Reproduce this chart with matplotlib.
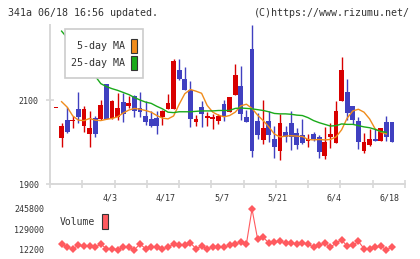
import numpy as np
import matplotlib
matplotlib.use("Agg")
import matplotlib.pyplot as plt
from matplotlib.patches import Rectangle

# daily candles: open, high, low, close (index 0 .. 60, last = 6/18)
opens = [2080, 2009, 2052, 2049, 2079, 2038, 2018, 2058, 2055, 2138,
         2056, 2060, 2095, 2086, 2110, 2082, 2062, 2055, 2058, 2060,
         2079, 2079, 2171, 2149, 2124, 2048, 2083, 2058, 2055, 2051,
         2091, 2072, 2112, 2133, 2060, 2221, 2050, 2005, 2050, 2007,
         1979, 2024, 2046, 2022, 2017, 2003, 2019, 2011, 1967, 2013,
         1998, 2098, 2118, 2086, 2050, 1979, 1994, 2007, 2003, 2048, 2048]
highs = [2080, 2046, 2084, 2062, 2120, 2086, 2075, 2062, 2100, 2138,
         2100, 2117, 2116, 2110, 2112, 2120, 2098, 2074, 2074, 2076,
         2114, 2197, 2197, 2178, 2145, 2064, 2098, 2071, 2066, 2066,
         2100, 2108, 2186, 2181, 2076, 2279, 2070, 2100, 2075, 2038,
         2067, 2038, 2074, 2033, 2055, 2020, 2025, 2017, 2036, 2046,
         2098, 2202, 2149, 2086, 2060, 2022, 2031, 2032, 2033, 2061, 2048]
lows = [2080, 1989, 2022, 2033, 2046, 2025, 1989, 2011, 2052, 2054,
        2054, 2052, 2048, 2080, 2060, 2060, 2041, 2036, 2019, 2041,
        2079, 2079, 2148, 2124, 2036, 2038, 2035, 2038, 2031, 2043,
        2051, 2072, 2112, 2052, 2048, 1965, 2007, 1995, 2001, 1961,
        1956, 2001, 1981, 1983, 1995, 1988, 2002, 1961, 1960, 1986,
        1998, 2098, 2052, 2043, 1983, 1975, 1991, 2003, 2003, 2003, 1999]
closes = [2080, 2038, 2025, 2051, 2060, 2079, 2034, 2018, 2088, 2054,
          2098, 2082, 2067, 2092, 2075, 2072, 2048, 2038, 2038, 2075,
          2094, 2194, 2149, 2124, 2054, 2055, 2066, 2061, 2059, 2062,
          2060, 2106, 2160, 2067, 2048, 1979, 2017, 2034, 2017, 1989,
          2045, 2011, 2011, 1994, 1998, 2008, 2007, 1977, 1999, 2018,
          2074, 2171, 2068, 2053, 1999, 1999, 2007, 2003, 2033, 2011, 2001]

# moving averages, index 1 .. 59
ma5 = [2096, 2083, 2062, 2052, 2051, 2056, 2052, 2051, 2054, 2056,
       2060, 2069, 2076, 2080, 2078, 2075, 2071, 2063, 2057, 2055,
       2062, 2090, 2115, 2125, 2121, 2116, 2087, 2071, 2064, 2060,
       2063, 2071, 2086, 2090, 2080, 2064, 2051, 2036, 2019, 2012,
       2014, 2015, 2014, 2013, 2006, 2005, 2006, 2005, 2006, 2012,
       2029, 2057, 2074, 2078, 2071, 2055, 2031, 2024, 2019]
ma25 = [2264, 2248, 2231, 2214, 2195, 2176, 2157, 2139, 2132, 2127,
        2123, 2118, 2113, 2106, 2100, 2095, 2092, 2085, 2079, 2071,
        2070, 2072, 2072, 2072, 2073, 2074, 2074, 2074, 2075, 2075,
        2075, 2080, 2081, 2080, 2079, 2077, 2075, 2072, 2068, 2067,
        2067, 2066, 2064, 2063, 2058, 2051, 2046, 2042, 2038, 2039,
        2043, 2042, 2042, 2039, 2036, 2034, 2030, 2025, 2023]

# volume, index 1 .. 60
volume = [44900, 26000, 17900, 37500, 31700, 31700, 26000, 44900, 17900, 17900,
          12200, 26000, 26000, 12200, 44900, 17900, 26000, 26000, 17900, 26000,
          44900, 37500, 37500, 50700, 17900, 31700, 17900, 26000, 26000, 26000,
          37500, 44900, 56400, 44900, 245800, 73600, 83400, 50700, 56400, 60400,
          50700, 50700, 44900, 50700, 44900, 26000, 37500, 50700, 26000, 50700,
          69600, 31700, 37500, 60400, 17900, 17900, 26000, 31700, 12200, 26000]

date_idx = [10, 20, 30, 40, 50, 60]
date_labels = ["4/3", "4/17", "5/7", "5/21", "6/4", "6/18"]
price_ticks = [1900, 2100]
vol_ticks = [12200, 129000, 245800]

RED = "#d80000"
BLUE = "#4040c0"
ORANGE = "#f08c1c"
GREEN = "#1aaa1a"
VOLC = "#ff5a5f"
AXC = "#d8d8d8"
TXT = "#333333"
MONO = "DejaVu Sans Mono"

W, H = 420, 259
fig = plt.figure(figsize=(W / 100, H / 100), dpi=100)
fig.patch.set_facecolor("white")

xlim = (-1.07, 62.32)
ax = fig.add_axes([50 / W, 1 - 184 / H, 355 / W, 159 / H])
ax.set_xlim(*xlim)
ax.set_ylim(1900, 2278.6)

n = len(opens)
idx = np.arange(n)
o = np.array(opens, float)
c = np.array(closes, float)
up = c >= o
cols = np.where(up, RED, BLUE)
ax.vlines(idx, lows, highs, colors=cols, lw=1.0, zorder=2)
body = np.maximum(np.abs(c - o), 2.4)
ax.bar(idx, body, bottom=np.minimum(o, c), width=0.85, color=cols, lw=0, zorder=3)

ma_idx = np.arange(1, 1 + len(ma5))
ax.plot(ma_idx, ma5, color=ORANGE, lw=1.0, zorder=4)
ax.plot(ma_idx, ma25, color=GREEN, lw=1.0, zorder=4)

for s in ["top", "right"]:
    ax.spines[s].set_visible(False)
for s in ["left", "bottom"]:
    ax.spines[s].set_color(AXC)
    ax.spines[s].set_linewidth(1.4)
ax.set_xticks(np.linspace(xlim[0], xlim[1], 12))
ax.set_xticklabels([])
ax.set_yticks(price_ticks)
ax.set_yticklabels([str(t) for t in price_ticks], family=MONO, fontsize=6, color=TXT)
ax.tick_params(axis="both", direction="inout", length=6, width=1.2, color=AXC)
ax.tick_params(axis="y", pad=5)

for i, lab in zip(date_idx, date_labels):
    ax.text(i - 0.4, -0.088, lab, transform=ax.get_xaxis_transform(),
            ha="center", va="center", family=MONO, fontsize=6, color=TXT)

# volume panel
vax = fig.add_axes([50 / W, 1 - 249.7 / H, 355 / W, 40.7 / H])
vax.set_xlim(*xlim)
vax.set_ylim(12200, 245800)
vidx = np.arange(1, 1 + len(volume))
vax.plot(vidx, volume, color=VOLC, lw=0.8, marker="D", ms=4.4, mew=0, clip_on=False)
for s in vax.spines.values():
    s.set_visible(False)
vax.set_xticks([])
vax.set_yticks(vol_ticks)
vax.set_yticklabels([str(t) for t in vol_ticks], family=MONO, fontsize=6, color=TXT)
vax.tick_params(axis="y", length=0, pad=4)
vax.patch.set_alpha(0)

# overlay in pixel coordinates: header and legends
ov = fig.add_axes([0, 0, 1, 1])
ov.set_xlim(0, W)
ov.set_ylim(H, 0)
ov.axis("off")
ov.patch.set_alpha(0)
ov.text(8, 13, "341a 06/18 16:56 updated.", family=MONO, fontsize=7.2,
        color=TXT, va="center", ha="left")
ov.text(410, 13, "(C)https://www.rizumu.net/", family=MONO, fontsize=7.2,
        color=TXT, va="center", ha="right")

ov.add_patch(Rectangle((65, 29), 78, 49, facecolor="white", edgecolor="#cccccc", lw=1.2))
ov.text(125, 46, "5-day MA", family=MONO, fontsize=7.2, color=TXT, ha="right", va="center")
ov.text(125, 63, "25-day MA", family=MONO, fontsize=7.2, color=TXT, ha="right", va="center")
ov.add_patch(Rectangle((131, 39), 6, 14, facecolor=ORANGE, edgecolor="#333333", lw=0.8))
ov.add_patch(Rectangle((131, 56), 6, 14, facecolor=GREEN, edgecolor="#333333", lw=0.8))

ov.text(95, 222, "Volume", family=MONO, fontsize=7, color=TXT, ha="right", va="center")
ov.add_patch(Rectangle((101.5, 213.5), 6, 15, facecolor=VOLC, edgecolor="#333333", lw=0.8))

fig.savefig("out.png", dpi=100)
